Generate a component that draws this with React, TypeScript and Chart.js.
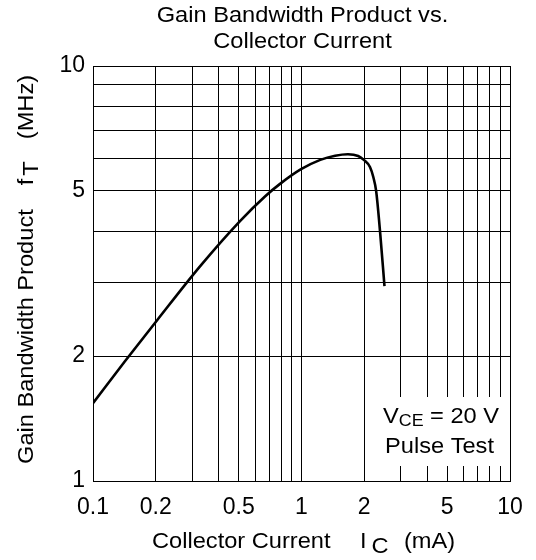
import React, { useEffect, useRef } from 'react';
import { Chart, registerables } from 'chart.js';

Chart.register(...registerables);

// Data (I_C in mA, f_T in MHz)
const currentMA = [0.1, 0.142, 0.203, 0.326, 0.507, 0.668, 0.789, 0.995, 1.23, 1.45, 1.67, 1.87, 1.99, 2.13, 2.21, 2.28, 2.38, 2.5];
const gainMHz = [1.54, 1.94, 2.44, 3.29, 4.23, 4.85, 5.2, 5.64, 5.94, 6.08, 6.13, 6.07, 5.94, 5.71, 5.4, 5.0, 4.0, 2.95];

const xTickLabels = [0.1, 0.2, 0.5, 1, 2, 5, 10];
const yTickLabels = [1, 2, 5, 10];
const xGridValues = [0.1, 0.2, 0.3, 0.4, 0.5, 0.6, 0.7, 0.8, 0.9, 1, 2, 3, 4, 5, 6, 7, 8, 9, 10];
const yGridValues = [1, 2, 3, 4, 5, 6, 7, 8, 9, 10];

const titleLines = ['Gain Bandwidth Product vs.', 'Collector Current'];
const xTitleMain = 'Collector Current';
const xTitleSym = 'I';
const xTitleSub = 'C';
const xTitleUnit = '(mA)';
const yTitleMain = 'Gain Bandwidth Product';
const yTitleSym = 'f';
const yTitleSub = 'T';
const yTitleUnit = '(MHz)';
const noteSym = 'V';
const noteSub = 'CE';
const noteRest = ' = 20 V';
const noteLine2 = 'Pulse Test';

const FONT = '"Liberation Sans", Arial, Helvetica, sans-serif';
const SX = 1.05;

function textW(ctx: CanvasRenderingContext2D, t: string, size: number) {
  ctx.font = `${size}px ${FONT}`;
  return ctx.measureText(t).width * SX;
}

function drawT(ctx: CanvasRenderingContext2D, t: string, x: number, y: number, size: number, align: CanvasTextAlign = 'left') {
  ctx.save();
  ctx.font = `${size}px ${FONT}`;
  ctx.fillStyle = '#000';
  ctx.textBaseline = 'alphabetic';
  ctx.textAlign = align;
  ctx.translate(x, y);
  ctx.scale(SX, 1);
  ctx.fillText(t, 0, 0);
  ctx.restore();
}

const textPlugin = {
  id: 'textPlugin',
  beforeDatasetsDraw(chart: any) {
    const ctx = chart.ctx as CanvasRenderingContext2D;
    const { right } = chart.chartArea;
    // white panel behind the note (interrupts grid lines)
    ctx.save();
    ctx.fillStyle = '#fff';
    ctx.fillRect(right - 130, 397, 128, 69);
    ctx.restore();
  },
  afterDraw(chart: any) {
    const ctx = chart.ctx as CanvasRenderingContext2D;
    const { left, right } = chart.chartArea;
    const cx = (left + right) / 2 + 1;
    const S = 22.5;
    // title
    drawT(ctx, titleLines[0], cx, 22, S, 'center');
    drawT(ctx, titleLines[1], cx, 48, S, 'center');

    // x-axis title
    drawT(ctx, xTitleMain, 152, 548, S);
    let x = 360;
    drawT(ctx, xTitleSym, x, 548, S);
    x += textW(ctx, xTitleSym, S) + 5;
    drawT(ctx, xTitleSub, x, 553, S);
    drawT(ctx, xTitleUnit, 404, 548, S);

    // y-axis title (rotated)
    ctx.save();
    ctx.translate(33, 464);
    ctx.rotate(-Math.PI / 2);
    let p = 0;
    drawT(ctx, yTitleMain, p, 0, S);
    p += textW(ctx, yTitleMain, S) + 24;
    drawT(ctx, yTitleSym, p, 0, S);
    p += textW(ctx, yTitleSym, S) + 3;
    drawT(ctx, yTitleSub, p, 5, S);
    p += textW(ctx, yTitleSub, S) + 22;
    drawT(ctx, yTitleUnit, p, 0, S);
    ctx.restore();

    // note
    let nx = right - 127;
    drawT(ctx, noteSym, nx, 423, S);
    nx += textW(ctx, noteSym, S);
    drawT(ctx, noteSub, nx, 426, 17);
    nx += textW(ctx, noteSub, 17);
    drawT(ctx, noteRest, nx, 423, S);
    drawT(ctx, noteLine2, right - 125, 453, S);
  },
};

export default function App() {
  const ref = useRef<HTMLCanvasElement | null>(null);

  useEffect(() => {
    if (!ref.current) return;
    const chart = new Chart(ref.current, {
      type: 'line',
      data: {
        datasets: [
          {
            data: currentMA.map((v, i) => ({ x: v, y: gainMHz[i] })),
            borderColor: '#000',
            borderWidth: 2.6,
            pointRadius: 0,
            fill: false,
            cubicInterpolationMode: 'monotone',
          },
        ],
      },
      options: {
        animation: false,
        responsive: true,
        maintainAspectRatio: false,
        layout: { padding: { top: 66, right: 26, left: 0, bottom: 0 } },
        plugins: {
          legend: { display: false },
          title: { display: false },
          tooltip: { enabled: false },
        },
        scales: {
          x: {
            type: 'logarithmic',
            min: 0.1,
            max: 10,
            afterBuildTicks: (scale: any) => {
              scale.ticks = xGridValues.map((v) => ({ value: v }));
            },
            afterFit: (scale: any) => {
              scale.height = 79;
            },
            ticks: {
              autoSkip: false,
              maxRotation: 0,
              minRotation: 0,
              padding: 13,
              color: '#000',
              font: { family: FONT, size: 23 },
              callback: (value: any) => (xTickLabels.includes(Number(value)) ? String(value) : ''),
            },
            grid: { color: '#000', lineWidth: 1, drawTicks: false },
            border: { display: true, color: '#000', width: 1 },
          },
          y: {
            type: 'logarithmic',
            min: 1,
            max: 10,
            afterBuildTicks: (scale: any) => {
              scale.ticks = yGridValues.map((v) => ({ value: v }));
            },
            afterFit: (scale: any) => {
              scale.width = 93;
            },
            ticks: {
              autoSkip: false,
              padding: 8,
              color: '#000',
              font: { family: FONT, size: 23 },
              callback: (value: any) => (yTickLabels.includes(Number(value)) ? String(value) : ''),
            },
            grid: { color: '#000', lineWidth: 1, drawTicks: false },
            border: { display: true, color: '#000', width: 1 },
          },
        },
      },
      plugins: [textPlugin],
    } as any);
    return () => chart.destroy();
  }, []);

  return (
    <div style={{ position: 'absolute', left: 0, top: 0, width: 536, height: 560, background: '#fff' }}>
      <canvas ref={ref} />
    </div>
  );
}
